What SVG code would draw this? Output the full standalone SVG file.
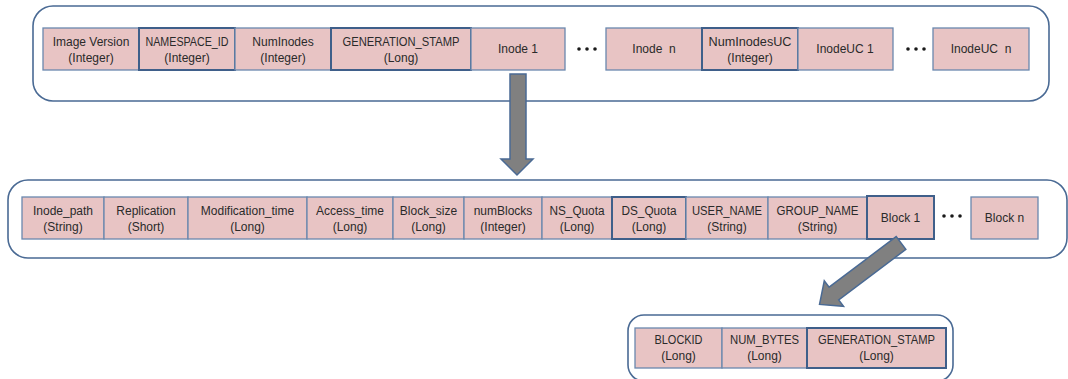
<svg xmlns="http://www.w3.org/2000/svg" width="1068" height="379" viewBox="0 0 1068 379">
<style>
.bg{fill:#ffffff}
.cont{fill:#ffffff;stroke:#4A6A94;stroke-width:1.6}
.box{fill:#E8C4C4;stroke:#6A88AE;stroke-width:1.3}
.boxd{fill:#E8C4C4;stroke:#3F5F8A;stroke-width:2}
.t{font-family:"Liberation Sans",Arial,sans-serif;font-size:12px;fill:#2a2a2a;text-anchor:middle}
.dot{fill:#1a1a1a}
.arr{fill:#808080;stroke:#4A6A94;stroke-width:1.5;stroke-linejoin:miter}
</style>
<rect class="bg" x="0" y="0" width="1068" height="379"/>

<g id="container-image">
<rect class="cont" x="33" y="6" width="1016" height="95" rx="20"/>
</g>
<g id="container-inode">
<rect class="cont" x="8" y="180" width="1059" height="78" rx="20"/>
</g>
<g id="container-block">
<rect class="cont" x="628" y="315" width="325" height="66" rx="16"/>
</g>

<!-- top row -->
<g id="n-image-version"><rect class="box" x="43" y="28" width="96" height="42"/><text class="t" x="91" y="46">Image Version</text><text class="t" x="91" y="62">(Integer)</text></g>
<g id="n-namespace-id"><rect class="boxd" x="139" y="28" width="96" height="42"/><text class="t" x="187" y="46" textLength="83" lengthAdjust="spacingAndGlyphs">NAMESPACE_ID</text><text class="t" x="187" y="62">(Integer)</text></g>
<g id="n-numinodes"><rect class="box" x="235" y="28" width="96" height="42"/><text class="t" x="283" y="46">NumInodes</text><text class="t" x="283" y="62">(Integer)</text></g>
<g id="n-generation-stamp"><rect class="boxd" x="331" y="28" width="140" height="42"/><text class="t" x="401" y="46" textLength="117" lengthAdjust="spacingAndGlyphs">GENERATION_STAMP</text><text class="t" x="401" y="62">(Long)</text></g>
<g id="n-inode-1"><rect class="box" x="471" y="28" width="94" height="42"/><text class="t" x="518" y="53">Inode 1</text></g>
<g id="dots-1"><circle class="dot" cx="579" cy="49" r="1.8"/><circle class="dot" cx="587" cy="49" r="1.8"/><circle class="dot" cx="595" cy="49" r="1.8"/></g>
<g id="n-inode-n"><rect class="box" x="606" y="28" width="96" height="42"/><text class="t" x="654" y="53" xml:space="preserve">Inode  n</text></g>
<g id="n-numinodesuc"><rect class="boxd" x="702" y="28" width="96" height="42"/><text class="t" x="750" y="46" textLength="83" lengthAdjust="spacingAndGlyphs">NumInodesUC</text><text class="t" x="750" y="62">(Integer)</text></g>
<g id="n-inodeuc-1"><rect class="box" x="798" y="28" width="95" height="42"/><text class="t" x="845" y="53">InodeUC 1</text></g>
<g id="dots-2"><circle class="dot" cx="908" cy="49" r="1.8"/><circle class="dot" cx="916" cy="49" r="1.8"/><circle class="dot" cx="924" cy="49" r="1.8"/></g>
<g id="n-inodeuc-n"><rect class="box" x="933" y="28" width="96" height="42"/><text class="t" x="981" y="53" xml:space="preserve">InodeUC  n</text></g>

<!-- middle row -->
<g id="n-inode-path"><rect class="box" x="22" y="197" width="82" height="42"/><text class="t" x="63" y="215">Inode_path</text><text class="t" x="63" y="231">(String)</text></g>
<g id="n-replication"><rect class="box" x="104" y="197" width="84" height="42"/><text class="t" x="146" y="215">Replication</text><text class="t" x="146" y="231">(Short)</text></g>
<g id="n-modification-time"><rect class="box" x="188" y="197" width="119" height="42"/><text class="t" x="247.5" y="215">Modification_time</text><text class="t" x="247.5" y="231">(Long)</text></g>
<g id="n-access-time"><rect class="box" x="307" y="197" width="86" height="42"/><text class="t" x="350" y="215">Access_time</text><text class="t" x="350" y="231">(Long)</text></g>
<g id="n-block-size"><rect class="box" x="393" y="197" width="71" height="42"/><text class="t" x="428.5" y="215">Block_size</text><text class="t" x="428.5" y="231">(Long)</text></g>
<g id="n-numblocks"><rect class="box" x="464" y="197" width="78" height="42"/><text class="t" x="503" y="215">numBlocks</text><text class="t" x="503" y="231">(Integer)</text></g>
<g id="n-ns-quota"><rect class="box" x="542" y="197" width="70" height="42"/><text class="t" x="577" y="215" textLength="55" lengthAdjust="spacingAndGlyphs">NS_Quota</text><text class="t" x="577" y="231">(Long)</text></g>
<g id="n-ds-quota"><rect class="boxd" x="612" y="197" width="74" height="42"/><text class="t" x="649" y="215" textLength="55" lengthAdjust="spacingAndGlyphs">DS_Quota</text><text class="t" x="649" y="231">(Long)</text></g>
<g id="n-user-name"><rect class="box" x="686" y="197" width="82" height="42"/><text class="t" x="727" y="215" textLength="70" lengthAdjust="spacingAndGlyphs">USER_NAME</text><text class="t" x="727" y="231">(String)</text></g>
<g id="n-group-name"><rect class="box" x="768" y="197" width="99" height="42"/><text class="t" x="817.5" y="215" textLength="82" lengthAdjust="spacingAndGlyphs">GROUP_NAME</text><text class="t" x="817.5" y="231">(String)</text></g>
<g id="n-block-1"><rect class="boxd" x="867" y="196" width="67" height="43"/><text class="t" x="900.5" y="222">Block 1</text></g>
<g id="dots-3"><circle class="dot" cx="944" cy="216" r="1.8"/><circle class="dot" cx="952" cy="216" r="1.8"/><circle class="dot" cx="960" cy="216" r="1.8"/></g>
<g id="n-block-n"><rect class="box" x="971" y="197" width="67" height="42"/><text class="t" x="1004.5" y="222">Block n</text></g>

<!-- bottom row -->
<g id="n-blockid"><rect class="box" x="635" y="328" width="87" height="40"/><text class="t" x="678.5" y="344" textLength="48" lengthAdjust="spacingAndGlyphs">BLOCKID</text><text class="t" x="678.5" y="360">(Long)</text></g>
<g id="n-num-bytes"><rect class="box" x="722" y="328" width="85" height="40"/><text class="t" x="764.5" y="344" textLength="69" lengthAdjust="spacingAndGlyphs">NUM_BYTES</text><text class="t" x="764.5" y="360">(Long)</text></g>
<g id="n-generation-stamp-2"><rect class="boxd" x="807" y="328" width="139" height="40"/><text class="t" x="876.5" y="344" textLength="117" lengthAdjust="spacingAndGlyphs">GENERATION_STAMP</text><text class="t" x="876.5" y="360">(Long)</text></g>

<g id="connectors">
<path class="arr" d="M510,74 L526,74 L526,159 L533,159 L517,175 L501,159 L510,159 Z"/>
<path class="arr" transform="translate(901,243) rotate(143)" d="M0,-8 L84,-8 L84,-16 L102,0 L84,16 L84,8 L0,8 Z"/>
</g>
</svg>
